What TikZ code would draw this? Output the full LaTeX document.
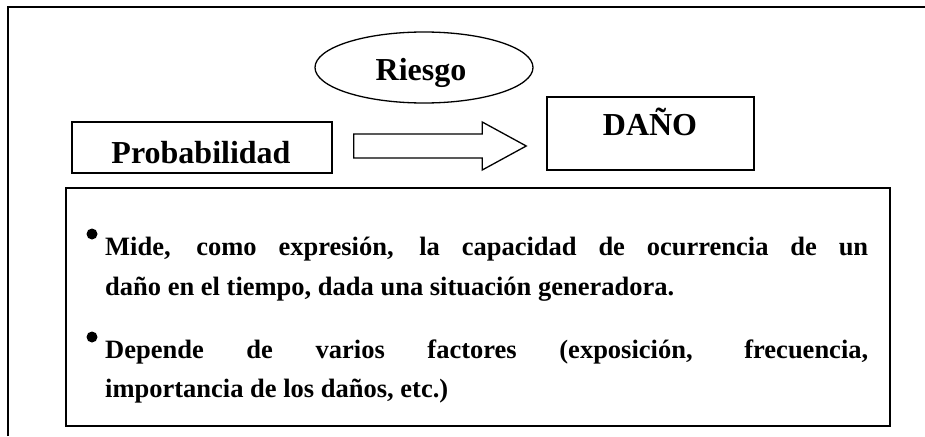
\documentclass[tikz,border=0pt]{standalone}
\usepackage{fontspec}
\setmainfont{Liberation Serif}
\usetikzlibrary{shapes.geometric,calc}
\begin{document}
\begin{tikzpicture}[x=1pt,y=-1pt,
  box/.style={draw,line width=1.5pt,inner sep=0pt},
  lbl/.style={font=\fontsize{32}{36}\selectfont\bfseries,anchor=base,inner sep=0pt},
  body/.style={font=\fontsize{26.5}{30}\selectfont\bfseries,anchor=base west,inner sep=0pt},
  dot/.style={fill=black}]
\useasboundingbox (0,0) rectangle (925,436);
\draw[line width=2pt] (8,436) -- (8,7) -- (925,7);
% shapes
\node[draw,ellipse,line width=1.3pt,inner sep=0pt,minimum width=218pt,minimum height=71pt] (riesgo) at (424,67.5) {};
\node[box,minimum width=260pt,minimum height=51pt] (prob) at (202,147.5) {};
\node[box,minimum width=207pt,minimum height=73pt] (dano) at (650.5,133.5) {};
\node[box,minimum width=824pt,minimum height=238pt] (info) at (478,307) {};
% block arrow
\coordinate (tail) at ($(prob.east)+(21,-1.5)$);
\coordinate (tip) at ($(dano.west)+(-20,12.5)$);
\draw[line width=1.3pt] ($(tail)+(0,-12)$) -- ($(tip)+(-44,-12)$) -- ($(tip)+(-44,-24)$) -- (tip)
  -- ($(tip)+(-44,24)$) -- ($(tip)+(-44,12)$) -- ($(tail)+(0,12)$) -- cycle;
% labels
\node[lbl] (triesgo) at (421,80) {Riesgo};
\node[lbl] (tprob) at (201,163) {Probabilidad};
\node[lbl] (tdano) at (650,135) {DAÑO};
% bullets
\fill (92,234) circle (5.5pt);
\fill (92,337) circle (5.5pt);
\node[body] (l1) at (105,255) {\makebox[763pt][s]{Mide, como expresión, la capacidad de ocurrencia de un}};
\node[body] (l2) at (105,295) {daño en el tiempo, dada una situación generadora.};
\node[body] (l3) at (105,358) {\makebox[763pt][s]{Depende de varios factores (exposición, frecuencia,}};
\node[body] (l4) at (105,397) {importancia de los daños, etc.)};
\end{tikzpicture}
\end{document}
